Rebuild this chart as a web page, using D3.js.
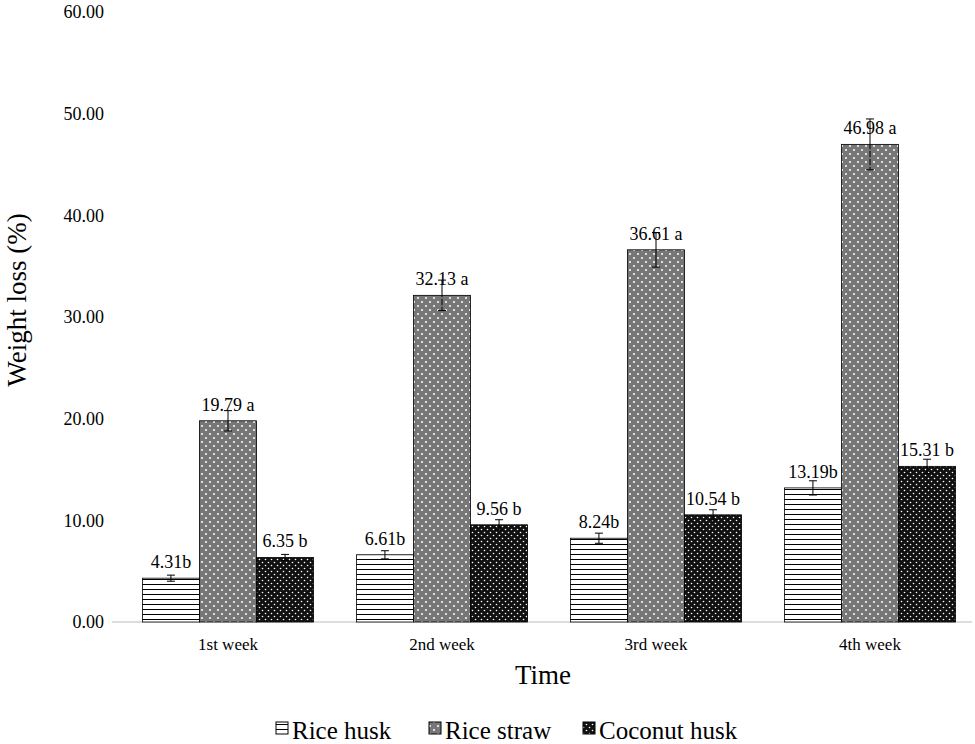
<!DOCTYPE html>
<html><head><meta charset="utf-8">
<script src="https://cdn.jsdelivr.net/npm/d3@7"></script>
<style>body{margin:0;background:#fff}text{font-family:"Liberation Serif","Times New Roman",serif}</style>
</head><body><svg id="c" width="975" height="744"></svg>
<script>
const categories=["1st week","2nd week","3rd week","4th week"];
const series=["Rice husk","Rice straw","Coconut husk"];
const riceHusk=[4.31,6.61,8.24,13.19];
const riceStraw=[19.79,32.13,36.61,46.98];
const coconutHusk=[6.35,9.56,10.54,15.31];
const riceHuskErr=[0.3,0.4,0.5,0.7];
const riceStrawErr=[1.0,1.5,1.7,2.5];
const coconutHuskErr=[0.3,0.5,0.5,0.7];
const letters=[["b","a","b"],["b","a","b"],["b","a","b"],["b","a","b"]];
const yTicks=[0,10,20,30,40,50,60];

const svg=d3.select("#c");
const defs=svg.append("defs");
let p=defs.append("pattern").attr("id","p0").attr("width",6).attr("height",5).attr("patternUnits","userSpaceOnUse");
p.append("rect").attr("width",6).attr("height",5).attr("fill","#fff");
p.append("rect").attr("y",4).attr("width",6).attr("height",1.2).attr("fill","#000");
p=defs.append("pattern").attr("id","p1").attr("width",8).attr("height",8).attr("patternUnits","userSpaceOnUse");
p.append("rect").attr("width",8).attr("height",8).attr("fill","#777");
p.append("circle").attr("cx",2).attr("cy",2).attr("r",1).attr("fill","#fff");
p.append("circle").attr("cx",6).attr("cy",6).attr("r",1).attr("fill","#fff");
p=defs.append("pattern").attr("id","p2").attr("width",6).attr("height",6).attr("patternUnits","userSpaceOnUse");
p.append("rect").attr("width",6).attr("height",6).attr("fill","#111");
p.append("circle").attr("cx",1.5).attr("cy",1.5).attr("r",0.8).attr("fill","#fff");
p.append("circle").attr("cx",4.5).attr("cy",4.5).attr("r",0.8).attr("fill","#fff");

const x=d3.scaleBand().domain(categories).range([121,977]).paddingInner(0.2).paddingOuter(0.1);
const xs=d3.scaleBand().domain(series).range([0,x.bandwidth()]);
const y=d3.scaleLinear().domain([0,60]).range([622,12]);
const vals=[riceHusk,riceStraw,coconutHusk], errs=[riceHuskErr,riceStrawErr,coconutHuskErr];

svg.append("line").attr("x1",112).attr("x2",972).attr("y1",y(0)).attr("y2",y(0)).attr("stroke","#bbb");
const ya=svg.append("g").attr("transform","translate(108,0)").call(d3.axisLeft(y).tickValues(yTicks).tickFormat(d3.format(".2f")).tickSize(0).tickPadding(4));
ya.select(".domain").remove();
ya.selectAll("text").attr("font-size",18).attr("font-family","Liberation Serif").attr("fill","#000");
const xa=svg.append("g").attr("transform",`translate(0,${y(0)})`).call(d3.axisBottom(x).tickSize(0).tickPadding(16));
xa.select(".domain").remove();
xa.selectAll("text").attr("font-size",17).attr("font-family","Liberation Serif").attr("fill","#000");

categories.forEach((c,i)=>{
  series.forEach((s,j)=>{
    const v=vals[j][i],e=errs[j][i],bx=x(c)+xs(s),w=xs.bandwidth(),cx=bx+w/2;
    svg.append("rect").attr("x",bx).attr("y",y(v)).attr("width",w).attr("height",y(0)-y(v)).attr("fill",`url(#p${j})`).attr("stroke","#000").attr("stroke-width",0.8);
    svg.append("line").attr("x1",cx).attr("x2",cx).attr("y1",y(v+e)).attr("y2",y(v-e)).attr("stroke","#000");
    [v+e,v-e].forEach(t=>svg.append("line").attr("x1",cx-4).attr("x2",cx+4).attr("y1",y(t)).attr("y2",y(t)).attr("stroke","#000"));
    svg.append("text").attr("x",cx).attr("y",y(v)-10).attr("text-anchor","middle").attr("font-size",18)
      .text(v.toFixed(2)+(j==0?"":" ")+letters[i][j]);
  });
});
svg.append("text").attr("transform","translate(26,300) rotate(-90)").attr("text-anchor","middle").attr("font-size",27).text("Weight loss (%)");
svg.append("text").attr("x",543).attr("y",684).attr("text-anchor","middle").attr("font-size",27).text("Time");
const lg=svg.append("g");
const lx=[276,429,583];
series.forEach((s,j)=>{
  lg.append("rect").attr("x",lx[j]).attr("y",722).attr("width",12).attr("height",12).attr("fill",`url(#p${j})`).attr("stroke","#000");
  lg.append("text").attr("x",lx[j]+16).attr("y",739).attr("font-size",25).text(s);
});
</script></body></html>
